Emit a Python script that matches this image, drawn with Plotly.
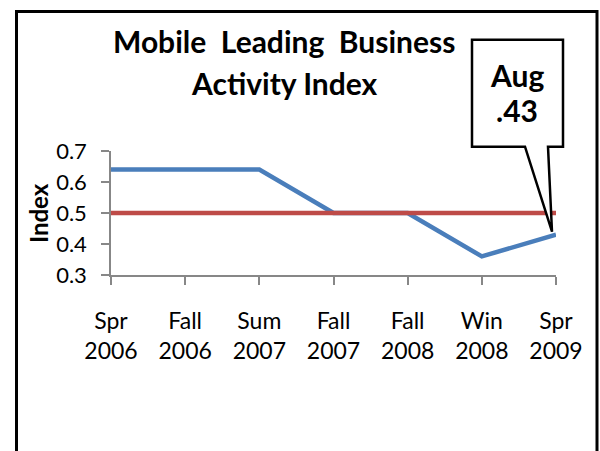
import plotly.graph_objects as go

categories = ["Spr<br>2006", "Fall<br>2006", "Sum<br>2007", "Fall<br>2007", "Fall<br>2008", "Win<br>2008", "Spr<br>2009"]
index_values = [0.64, 0.64, 0.64, 0.50, 0.50, 0.36, 0.43]
baseline_values = [0.50, 0.50, 0.50, 0.50, 0.50, 0.50, 0.50]
y_ticks = [0.3, 0.4, 0.5, 0.6, 0.7]
y_tick_text = ["0.3", "0.4", "0.5", "0.6", "0.7"]
y_range = [0.3, 0.7]
title_lines = ["Mobile \u00a0Leading \u00a0Business", "Activity Index"]
callout_month = "Aug"
callout_value = ".43"

FONT = "Lato"
BLUE = "#4A7EBB"
RED = "#BE4B48"
AXIS = "#878787"

fig = go.Figure()
fig.add_trace(go.Scatter(x=categories, y=index_values, mode="lines",
                         line=dict(color=BLUE, width=4.5), showlegend=False))
fig.add_trace(go.Scatter(x=categories, y=baseline_values, mode="lines",
                         line=dict(color=RED, width=4.5), showlegend=False))

L, R, T, B = 111, 44, 150.7, 175.7
W, H = 600, 451
pw, ph = W - L - R, H - T - B

def px(xp):
    return (xp - L) / pw

def py(yp):
    return (H - B - yp) / ph

fig.update_layout(
    width=W, height=H,
    margin=dict(l=L, r=R, t=T, b=B, autoexpand=False),
    paper_bgcolor="white", plot_bgcolor="white",
    font=dict(family=FONT, color="black"),
    xaxis=dict(type="category", range=[0, len(categories) - 1],
               showgrid=False, zeroline=False, showline=True,
               linecolor=AXIS, linewidth=1.5, ticks="outside",
               ticklen=8, tickwidth=1.5, tickcolor=AXIS, ticklabelstandoff=17,
               tickfont=dict(size=23, family=FONT), automargin=False),
    yaxis=dict(range=y_range, tickvals=y_ticks, ticktext=y_tick_text,
               showgrid=False, zeroline=False, showline=True,
               linecolor=AXIS, linewidth=1.5, ticks="outside",
               ticklen=8, tickwidth=1.5, tickcolor=AXIS, ticklabelstandoff=10,
               tickfont=dict(size=22, family=FONT), automargin=False),
)

# Title (two lines)
fig.add_annotation(text="<b>%s</b>" % title_lines[0], xref="paper", yref="paper",
                   x=px(284), y=py(40), showarrow=False, xanchor="center", yanchor="middle",
                   font=dict(size=30, family=FONT))
fig.add_annotation(text="<b>%s</b>" % title_lines[1], xref="paper", yref="paper",
                   x=px(284), y=py(82), showarrow=False, xanchor="center", yanchor="middle",
                   font=dict(size=30, family=FONT))

# Y axis title
fig.add_annotation(text="<b>Index</b>", xref="paper", yref="paper",
                   x=px(38), y=py(213), showarrow=False, textangle=-90,
                   xanchor="center", yanchor="middle", font=dict(size=24, family=FONT))

# Outer border
fig.add_shape(type="rect", xref="paper", yref="paper",
              x0=px(16.5), x1=px(597), y0=py(10.5), y1=py(470),
              line=dict(color="black", width=3), fillcolor="rgba(0,0,0,0)", layer="above")

# Callout anchored on last data point (paper position derived from the axis ranges)
last_i = len(categories) - 1
last_v = index_values[-1]
anchor_x = last_i / (len(categories) - 1)
anchor_y = (last_v - y_range[0]) / (y_range[1] - y_range[0])
fig.add_shape(type="path", xref="paper", yref="paper", xsizemode="pixel", ysizemode="pixel",
              xanchor=anchor_x, yanchor=anchor_y,
              path="M -84 88 L -84 195 L 7 195 L 7 88 L -8 88 L -4 3 L -31 88 Z",
              line=dict(color="black", width=2.5), fillcolor="white", layer="above")
fig.add_annotation(text="<b>%s</b>" % callout_month, xref="x", yref="y", x=last_i, y=last_v,
                   xshift=-39, yshift=160, showarrow=False, font=dict(size=30, family=FONT))
fig.add_annotation(text="<b>%s</b>" % callout_value, xref="x", yref="y", x=last_i, y=last_v,
                   xshift=-39, yshift=125, showarrow=False, font=dict(size=30, family=FONT))

fig.write_html("out.html", config={"displayModeBar": False},
               post_script="document.body.style.margin='0';document.body.style.overflow='hidden';")
